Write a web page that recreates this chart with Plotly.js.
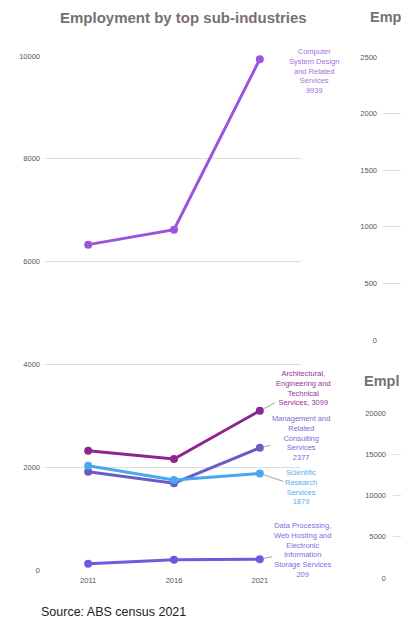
<!DOCTYPE html>
<html><head><meta charset="utf-8">
<script src="https://cdn.plot.ly/plotly-3.0.1.min.js"></script>
<style>html,body{margin:0;padding:0;background:#fff;}#chart{width:401px;height:624px;}</style>
</head><body><div id="chart"></div>
<script>
const years = ['2011', '2016', '2021'];
const seriesNames = ['Computer System Design and Related Services', 'Architectural, Engineering and Technical Services', 'Management and Related Consulting Services', 'Scientific Research Services', 'Data Processing, Web Hosting and Electronic Information Storage Services'];
const computerSystem = [6330, 6620, 9939];
const architectural = [2320, 2160, 3099];
const management = [1910, 1690, 2377];
const scientific = [2030, 1750, 1879];
const dataProcessing = [120, 200, 209];
const labelTexts = [
  'Computer<br>System Design<br>and Related<br>Services<br>9939',
  'Architectural,<br>Engineering and<br>Technical<br>Services, 3099',
  'Management and<br>Related<br>Consulting<br>Services<br>2377',
  'Scientific<br>Research<br>Services<br>1879',
  'Data Processing,<br>Web Hosting and<br>Electronic<br>Information<br>Storage Services<br>209'
];
const mainTicks = [0, 2000, 4000, 6000, 8000, 10000];
const chart2Ticks = [0, 500, 1000, 1500, 2000, 2500];
const chart3Ticks = [0, 5000, 10000, 15000, 20000];
const mainTitle = 'Employment by top sub-industries';
const chart2Title = 'Emp';
const chart3Title = 'Empl';
const sourceText = 'Source: ABS census 2021';

const lineColors = ['#9a55dc', '#8e2492', '#6a5bc6', '#48a7ef', '#7557df'];
const textColors = ['#a66fe4', '#9a2f9e', '#7b6bd2', '#55aef2', '#8769e6'];
const allSeries = [computerSystem, architectural, management, scientific, dataProcessing];

const W = 401, H = 624;
const py = p => 1 - p / H;
const px = p => p / W;
const FONT = 'Liberation Sans, Arial, sans-serif';

const traces = allSeries.map((vals, i) => ({
  type: 'scatter', mode: 'lines+markers', x: years, y: vals, name: seriesNames[i],
  line: {color: lineColors[i], width: 3}, marker: {color: lineColors[i], size: 8},
  cliponaxis: false, xaxis: 'x', yaxis: 'y', hoverinfo: 'skip'
}));
traces.push({type: 'scatter', x: [], y: [], xaxis: 'x2', yaxis: 'y2', showlegend: false});
traces.push({type: 'scatter', x: [], y: [], xaxis: 'x3', yaxis: 'y3', showlegend: false});

const lastIdx = years.length - 1;
const offsets = [[54, 12, false], [44, -23, true], [41, -10, true], [41, 14, true], [43, -9, true]];
const annotations = labelTexts.map((t, i) => ({
  xref: 'x', yref: 'y', x: lastIdx, y: allSeries[i][lastIdx], text: t,
  showarrow: true, ax: offsets[i][0], ay: offsets[i][1], arrowhead: 0, arrowwidth: 0.8,
  arrowcolor: offsets[i][2] ? '#8a8a8a' : 'rgba(0,0,0,0)', standoff: 4,
  font: {family: FONT, size: 7.5, color: textColors[i]},
  align: 'center'
}));
annotations.push({xref: 'paper', yref: 'paper', x: px(183), y: py(17), xanchor: 'center', yanchor: 'middle', showarrow: false,
  text: '<b>' + mainTitle + '</b>', font: {family: FONT, size: 15, color: '#777171'}});
annotations.push({xref: 'paper', yref: 'paper', x: px(368), y: py(17), xanchor: 'left', yanchor: 'middle', showarrow: false,
  text: '<b>' + chart2Title + '</b>', font: {family: FONT, size: 14.5, color: '#777171'}});
annotations.push({xref: 'paper', yref: 'paper', x: px(362), y: py(381), xanchor: 'left', yanchor: 'middle', showarrow: false,
  text: '<b>' + chart3Title + '</b>', font: {family: FONT, size: 14.5, color: '#777171'}});
annotations.push({xref: 'paper', yref: 'paper', x: px(39), y: py(612), xanchor: 'left', yanchor: 'middle', showarrow: false,
  text: sourceText, font: {family: FONT, size: 12.5, color: '#222222'}});

const tickFont = {family: FONT, size: 7.5, color: '#555555'};
const gridCol = '#dddddd';
const layout = {
  width: W, height: H, margin: {l: 0, r: 0, t: 0, b: 0}, showlegend: false,
  paper_bgcolor: '#ffffff', plot_bgcolor: '#ffffff',
  xaxis: {domain: [px(45), px(301)], type: 'category', range: [-0.503, 2.48], showgrid: false, zeroline: false,
    showline: false, ticks: '', tickfont: tickFont, anchor: 'y', fixedrange: true, ticklabelstandoff: 4},
  yaxis: {domain: [py(570), py(56)], range: [0, 10000], tickvals: mainTicks, ticktext: mainTicks.map(String),
    showgrid: true, gridcolor: gridCol, gridwidth: 1, zeroline: false, showline: false, ticks: '',
    tickfont: tickFont, anchor: 'x', ticklabelstandoff: 4, fixedrange: true},
  xaxis2: {domain: [px(383), 1], range: [0, 1], showgrid: false, zeroline: false, showticklabels: false, ticks: '', anchor: 'y2'},
  yaxis2: {domain: [py(340), py(57)], range: [0, 2500], tickvals: chart2Ticks, ticktext: chart2Ticks.map(String),
    showgrid: true, gridcolor: gridCol, zeroline: false, ticks: '', tickfont: tickFont, anchor: 'x2', ticklabelstandoff: 5},
  xaxis3: {domain: [px(393), 1], range: [0, 1], showgrid: false, zeroline: false, showticklabels: false, ticks: '', anchor: 'y3'},
  yaxis3: {domain: [py(578), py(413)], range: [0, 20000], tickvals: chart3Ticks, ticktext: chart3Ticks.map(String),
    showgrid: true, gridcolor: gridCol, zeroline: false, ticks: '', tickfont: tickFont, anchor: 'x3', ticklabelstandoff: 6},
  annotations: annotations
};
Plotly.newPlot('chart', traces, layout, {displayModeBar: false, staticPlot: true});
</script></body></html>
